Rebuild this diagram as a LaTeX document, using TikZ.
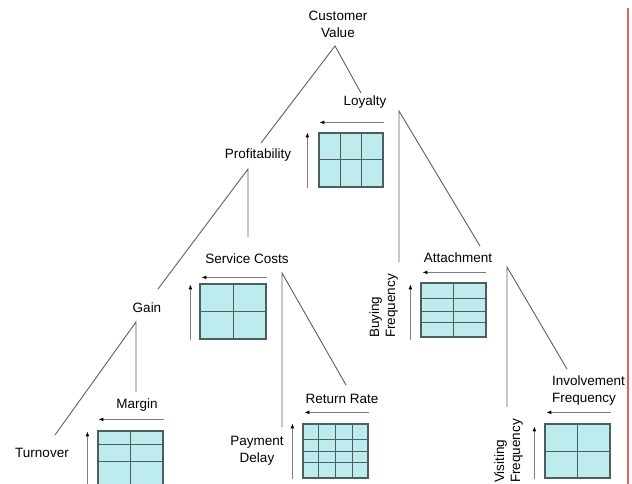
\documentclass[tikz,border=0pt]{standalone}
\usepackage{fontspec}
\setmainfont{Liberation Sans}
\usetikzlibrary{arrows.meta,calc}
\definecolor{cellfill}{RGB}{190,236,238}
\definecolor{cellline}{RGB}{75,95,95}
\definecolor{treeline}{RGB}{95,95,95}
\definecolor{axline}{RGB}{125,125,125}
\definecolor{redrule}{RGB}{240,95,95}
\newcommand\gcols[2]{\foreach \f in {#2} \draw[cell] ($(#1.north west)!\f!(#1.north east)$) -- ($(#1.south west)!\f!(#1.south east)$);}
\newcommand\grows[2]{\foreach \f in {#2} \draw[cell] ($(#1.north west)!\f!(#1.south west)$) -- ($(#1.north east)!\f!(#1.south east)$);}
\begin{document}
\begin{tikzpicture}[x=1pt,y=-1pt,
  lbl/.style={font=\fontsize{13.5}{17}\selectfont, inner sep=0pt, align=center},
  rlbl/.style={font=\fontsize{13.5}{16}\selectfont, inner sep=0pt, align=left, rotate=90, anchor=south west},
  tree/.style={draw=treeline, line width=0.9pt},
  gridbox/.style={draw=cellline, fill=cellfill, line width=1.2pt, inner sep=0pt, rectangle},
  cell/.style={draw=cellline, line width=1pt},
  ax/.style={draw=axline, line width=1.4pt, -{Latex[length=5pt,width=4pt,color=black]}},
]
\useasboundingbox (0,0) rectangle (632,484);

% labels
\node[lbl] (cv) at (338,24) {Customer\\Value};
\node[lbl] (loy) at (365,102) {Loyalty};
\node[lbl] (prof) at (258,155) {Profitability};
\node[lbl] (sc) at (247,259) {Service Costs};
\node[lbl] (gain) at (147,308) {Gain};
\node[lbl] (att) at (458,258) {Attachment};
\node[lbl] (margin) at (137,405) {Margin};
\node[lbl] (turn) at (42,453) {Turnover};
\node[lbl] (pd) at (257,451) {Payment\\Delay};
\node[lbl] (rr) at (342,399) {Return Rate};
\node[lbl, align=left, anchor=west] (inv) at (552,391) {Involvement\\Frequency};
\node[rlbl] (bf) at (398,338) {Buying\\Frequency};
\node[rlbl] (vf) at (523,483) {Visiting\\Frequency};

% tree connectors
\coordinate (cvA) at (335,46);
\coordinate (cvL) at (261,143);
\coordinate (cvR) at (361,93);
\draw[tree] (cvL) -- (cvA) -- (cvR);
\coordinate (loyA) at (399,111);
\coordinate (loyV) at (399,262);
\coordinate (loyD) at (480,246);
\draw[tree] (loyV) -- (loyA) -- (loyD);
\coordinate (profA) at (248,169);
\coordinate (profV) at (248,237);
\coordinate (profD) at (158,289);
\draw[tree] (profV) -- (profA) -- (profD);
\coordinate (gainA) at (136,322);
\coordinate (gainV) at (136,392);
\coordinate (gainD) at (55,435);
\draw[tree] (gainV) -- (gainA) -- (gainD);
\coordinate (scA) at (282,273);
\coordinate (scV) at (282,427);
\coordinate (scD) at (346,385);
\draw[tree] (scV) -- (scA) -- (scD);
\coordinate (attA) at (507,267);
\coordinate (attV) at (507,407);
\coordinate (attD) at (567,369);
\draw[tree] (attV) -- (attA) -- (attD);

% grids
\node[gridbox, minimum width=64pt, minimum height=54pt] (gL) at (351,160) {};
\gcols{gL}{0.333,0.667}
\grows{gL}{0.5}
\draw[ax] ([yshift=10pt]gL.north east) -- ([yshift=10pt,xshift=1pt]gL.north west);
\draw[ax] ([xshift=-11pt]gL.south west) -- ([xshift=-11pt]gL.north west);

\node[gridbox, minimum width=66pt, minimum height=55pt] (gS) at (233,311.5) {};
\gcols{gS}{0.5}
\grows{gS}{0.5}
\draw[ax] ([yshift=6pt]gS.north east) -- ([yshift=6pt,xshift=2pt]gS.north west);
\draw[ax] ([xshift=-9pt]gS.south west) -- ([xshift=-9pt,yshift=-1pt]gS.north west);

\node[gridbox, minimum width=65pt, minimum height=54pt] (gA) at (453.5,310) {};
\gcols{gA}{0.5}
\grows{gA}{0.296,0.52,0.72}
\draw[ax] ([yshift=10pt,xshift=-1pt]gA.north east) -- ([yshift=10pt,xshift=2pt]gA.north west);
\draw[ax] ([xshift=-10pt,yshift=-2pt]gA.south west) -- ([xshift=-10pt,yshift=-2pt]gA.north west);

\node[gridbox, minimum width=65pt, minimum height=54pt] (gM) at (130.5,458) {};
\gcols{gM}{0.5}
\grows{gM}{0.26,0.555}
\draw[ax] ([yshift=11pt]gM.north east) -- ([yshift=11pt,xshift=1pt]gM.north west);
\draw[ax] ([xshift=-10pt,yshift=-2pt]gM.south west) -- ([xshift=-10pt,yshift=-1pt]gM.north west);

\node[gridbox, minimum width=65pt, minimum height=54pt] (gR) at (335.5,451) {};
\gcols{gR}{0.25,0.5,0.75}
\grows{gR}{0.296,0.5,0.704}
\draw[ax] ([yshift=11pt]gR.north east) -- ([yshift=11pt,xshift=2pt]gR.north west);
\draw[ax] ([xshift=-10pt]gR.south west) -- ([xshift=-10pt]gR.north west);

\node[gridbox, minimum width=65pt, minimum height=54pt] (gI) at (577.5,451) {};
\gcols{gI}{0.5}
\grows{gI}{0.5}
\draw[ax] ([yshift=11pt]gI.north east) -- ([yshift=11pt,xshift=2pt]gI.north west);
\draw[ax] ([xshift=-10pt]gI.south west) -- ([xshift=-10pt,yshift=-3pt]gI.north west);

% red rule at right edge
\coordinate (redT) at (628,8);
\coordinate (redB) at (628,484);
\draw[redrule, line width=1.5pt] (redT) -- (redB);
\end{tikzpicture}
\end{document}
